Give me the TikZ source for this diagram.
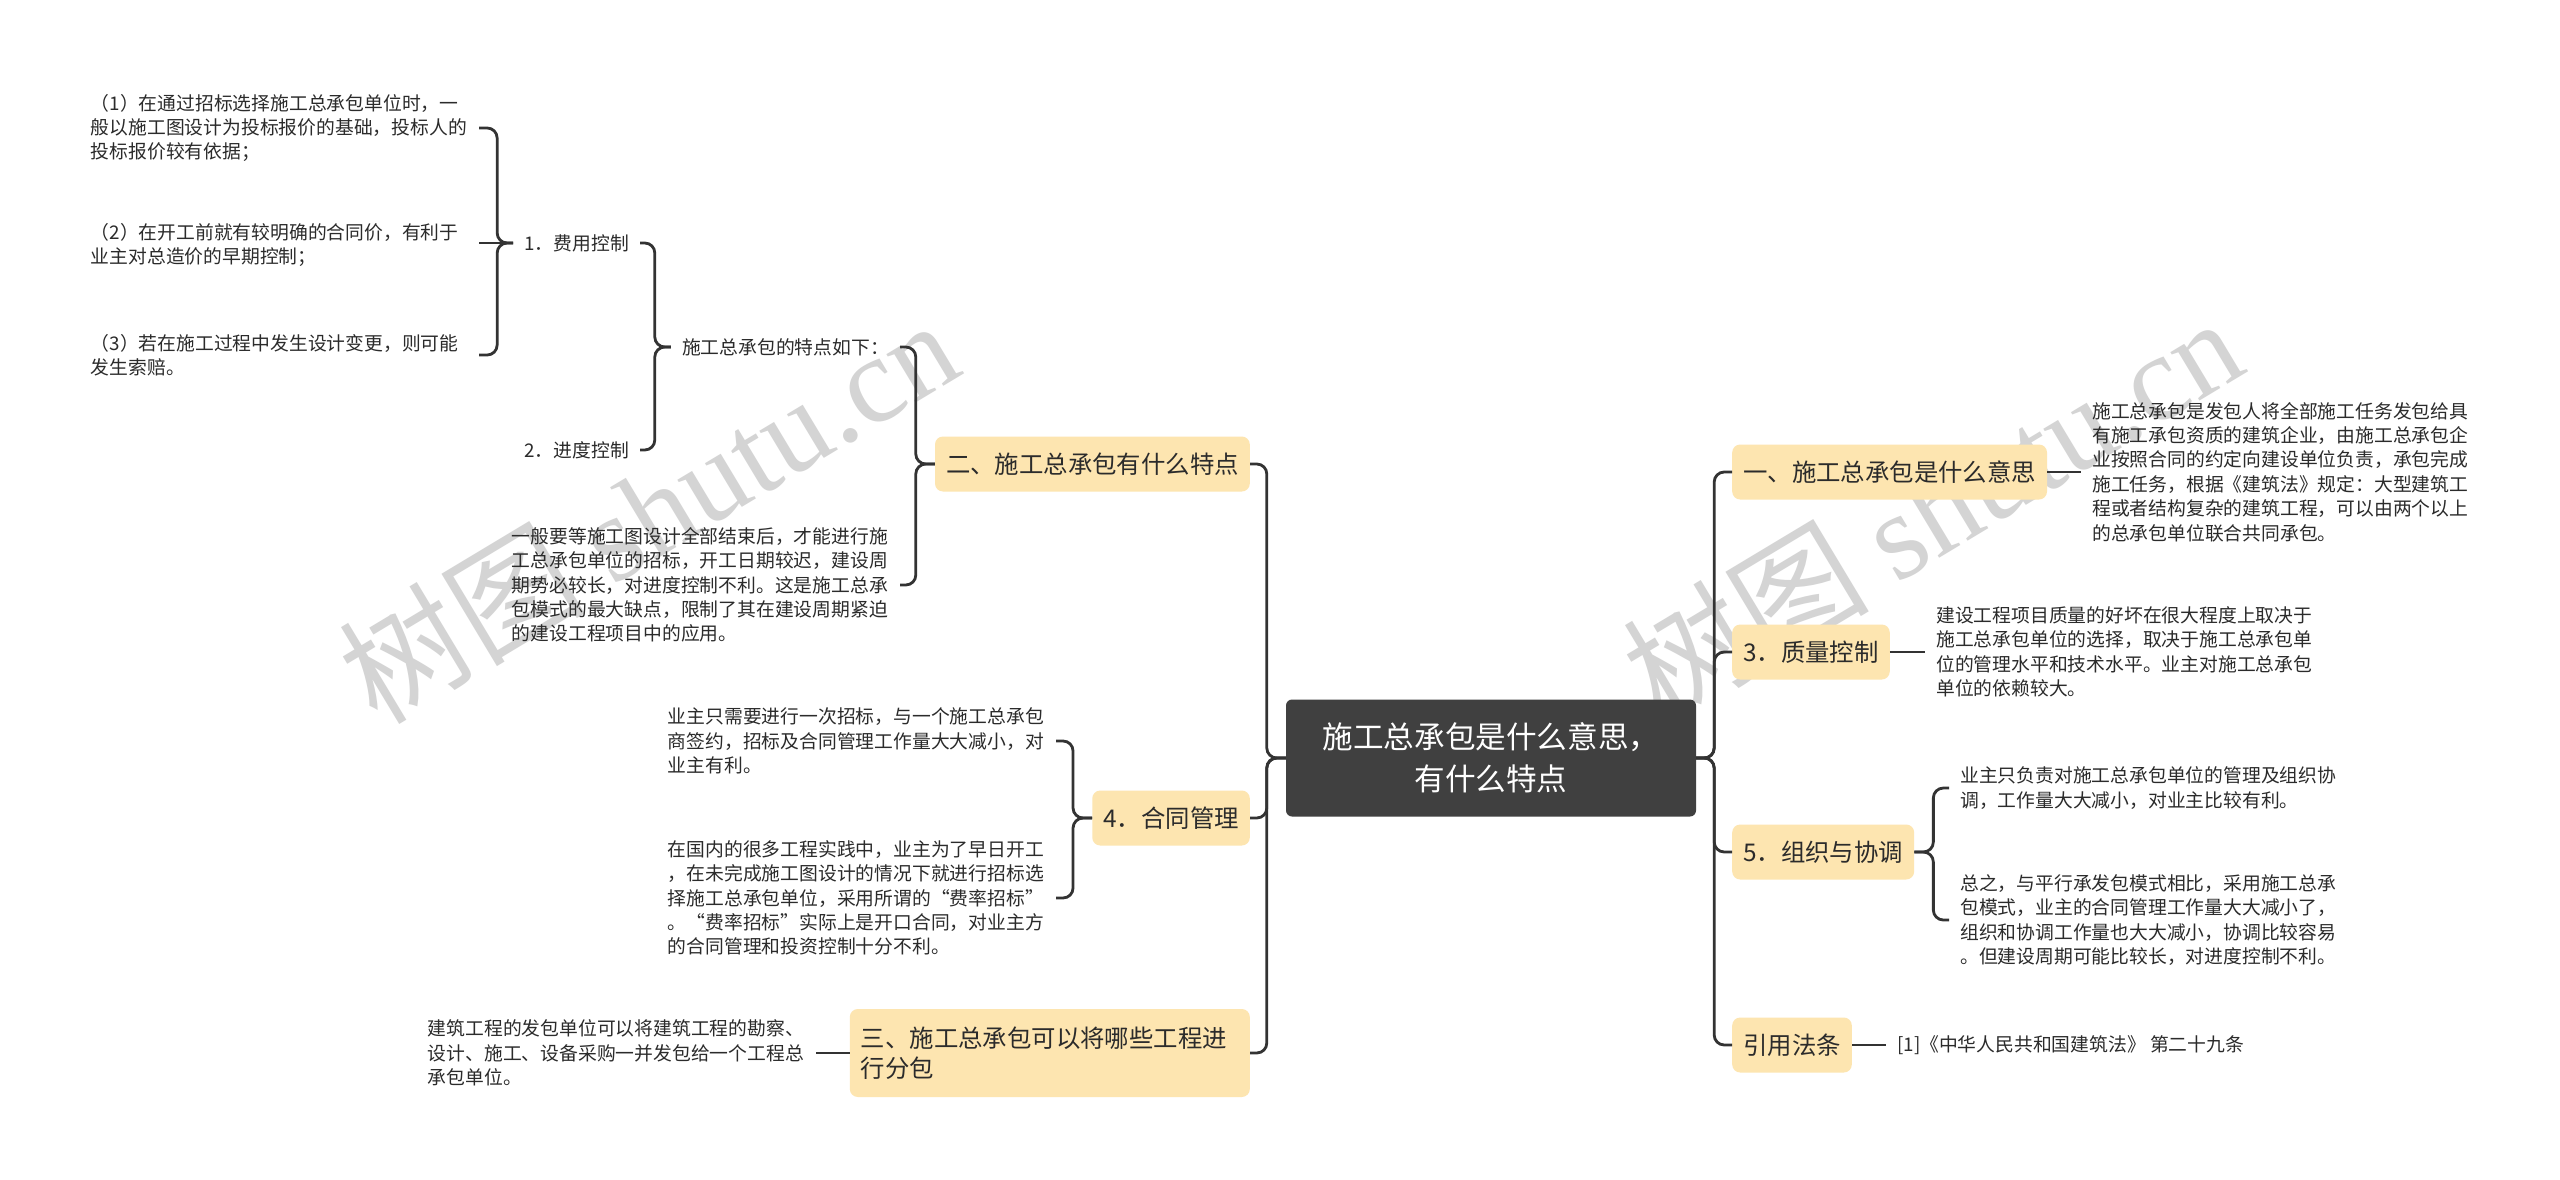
\documentclass[tikz,border=0pt]{standalone}
\usepackage{fontspec}
\setmainfont{Noto Sans CJK SC}
\newfontfamily\marklatin{Liberation Serif}
\usepackage{xcolor}
\usepackage{tikz}
\usetikzlibrary{positioning}
\definecolor{linkgray}{HTML}{333333}
\definecolor{inkgray}{HTML}{2B2B2B}
\definecolor{topicfill}{HTML}{FDE5B0}
\definecolor{rootfill}{HTML}{404040}
\definecolor{markgray}{HTML}{D4D4D4}
\newcommand\descfont{\fontsize{18.8pt}{24.4pt}\selectfont}
\newcommand\topicfont{\fontsize{24.4pt}{30pt}\selectfont}
\newcommand\rootfont{\fontsize{30.6pt}{42pt}\selectfont}
\tikzset{
  rootbox/.style={fill=rootfill, rounded corners=6pt, text=white, font=\rootfont,
    align=center, minimum width=410pt, minimum height=117pt, inner sep=0pt},
  topicbox/.style={fill=topicfill, rounded corners=8pt, text=inkgray, font=\topicfont,
    inner xsep=11pt, inner ysep=0pt, minimum height=55pt},
  descbox/.style={text=inkgray, font=\descfont, text width=377pt, align=left,
    inner xsep=11pt, inner ysep=0pt},
  notebox/.style={text=inkgray, font=\descfont, inner xsep=11pt, inner ysep=0pt},
  markbox/.style={text=markgray, font=\fontsize{123pt}{123pt}\selectfont, inner sep=0pt},
  linkline/.style={draw=linkgray, line width=2.8pt, rounded corners=10pt},
}

\begin{document}
\begin{tikzpicture}[x=1pt, y=-1pt]
  \useasboundingbox (0,0) rectangle (2560,1180);
  \fill[white] (0,0) rectangle (2560,1180);

  \node[markbox, rotate=31] (markL) at (648,510) {树图 {\marklatin shutu.cn}};
  \node[markbox, rotate=31] (markR) at (1932,508) {树图 {\marklatin shutu.cn}};

  \node[rootbox] (root) at (1491,758) {施工总承包是什么意思，\\有什么特点};

  % right side
  \node[topicbox, anchor=west] (what) at (1732,472) {一、施工总承包是什么意思};
  \node[descbox, anchor=west] (whatTxt) at (2081,472) {施工总承包是发包人将全部施工任务发包给具\\有施工承包资质的建筑企业，由施工总承包企\\业按照合同的约定向建设单位负责，承包完成\\施工任务，根据《建筑法》规定：大型建筑工\\程或者结构复杂的建筑工程，可以由两个以上\\的总承包单位联合共同承包。};
  \node[topicbox, anchor=west] (quality) at (1732,652) {3．质量控制};
  \node[descbox, anchor=west] (qualityTxt) at (1925,652) {建设工程项目质量的好坏在很大程度上取决于\\施工总承包单位的选择，取决于施工总承包单\\位的管理水平和技术水平。业主对施工总承包\\单位的依赖较大。};
  \node[topicbox, anchor=west] (coord) at (1732,852) {5．组织与协调};
  \node[descbox, anchor=west] (coordA) at (1949,788) {业主只负责对施工总承包单位的管理及组织协\\调，工作量大大减小，对业主比较有利。};
  \node[descbox, anchor=west] (coordB) at (1949,920) {总之，与平行承发包模式相比，采用施工总承\\包模式，业主的合同管理工作量大大减小了，\\组织和协调工作量也大大减小，协调比较容易\\。但建设周期可能比较长，对进度控制不利。};
  \node[topicbox, anchor=west] (law) at (1732,1045) {引用法条};
  \node[notebox, anchor=west] (lawTxt) at (1886,1045) {[1]《中华人民共和国建筑法》 第二十九条};

  % left side
  \node[topicbox, anchor=east] (traits) at (1250,464) {二、施工总承包有什么特点};
  \node[notebox, anchor=east] (traitsHead) at (900,347) {施工总承包的特点如下：};
  \node[descbox, anchor=east] (traitsTxt) at (900,585) {一般要等施工图设计全部结束后，才能进行施\\工总承包单位的招标，开工日期较迟，建设周\\期势必较长，对进度控制不利。这是施工总承\\包模式的最大缺点，限制了其在建设周期紧迫\\的建设工程项目中的应用。};
  \node[notebox, anchor=east] (cost) at (640,243) {1．费用控制};
  \node[notebox, anchor=east] (sched) at (640,450) {2．进度控制};
  \node[descbox, anchor=east] (costA) at (479,128) {（1）在通过招标选择施工总承包单位时，一\\般以施工图设计为投标报价的基础，投标人的\\投标报价较有依据；};
  \node[descbox, anchor=east] (costB) at (479,245) {（2）在开工前就有较明确的合同价，有利于\\业主对总造价的早期控制；};
  \node[descbox, anchor=east] (costC) at (479,355) {（3）若在施工过程中发生设计变更，则可能\\发生索赔。};
  \node[topicbox, anchor=east] (contract) at (1250,818) {4．合同管理};
  \node[descbox, anchor=east] (contractA) at (1056,741) {业主只需要进行一次招标，与一个施工总承包\\商签约，招标及合同管理工作量大大减小，对\\业主有利。};
  \node[descbox, anchor=east] (contractB) at (1056,898) {在国内的很多工程实践中，业主为了早日开工\\，在未完成施工图设计的情况下就进行招标选\\择施工总承包单位，采用所谓的“费率招标”\\。“费率招标”实际上是开口合同，对业主方\\的合同管理和投资控制十分不利。};
  \node[topicbox, anchor=east, text width=378pt, align=left, minimum height=88pt] (subcon) at (1250,1053) {三、施工总承包可以将哪些工程进\\行分包};
  \node[descbox, anchor=east] (subconTxt) at (816,1053) {建筑工程的发包单位可以将建筑工程的勘察、\\设计、施工、设备采购一并发包给一个工程总\\承包单位。};

  % connectors
  \foreach \k in {what,quality,coord,law}
    \draw[linkline] (root.east) -- ++(18,0) |- (\k.west);
  \foreach \k in {traits,contract,subcon}
    \draw[linkline] (root.west) -- ++(-19,0) |- (\k.east);
  \draw[linkline] (what.east) -- (whatTxt.west);
  \draw[linkline] (quality.east) -- (qualityTxt.west);
  \draw[linkline] (law.east) -- (lawTxt.west);
  \foreach \k in {coordA,coordB}
    \draw[linkline] (coord.east) -- ++(19,0) |- (\k.west);
  \foreach \k in {traitsHead,traitsTxt}
    \draw[linkline] (traits.west) -- ++(-19,0) |- (\k.east);
  \foreach \k in {cost,sched}
    \draw[linkline] (traitsHead.west) -- ++(-16,0) |- (\k.east);
  \foreach \k in {costA,costC}
    \draw[linkline] (cost.west) -- ++(-16,0) |- (\k.east);
  \draw[linkline] (cost.west) -- (cost.west -| costB.east);
  \foreach \k in {contractA,contractB}
    \draw[linkline] (contract.west) -- ++(-19,0) |- (\k.east);
  \draw[linkline] (subcon.west) -- (subconTxt.east);
\end{tikzpicture}
\end{document}
